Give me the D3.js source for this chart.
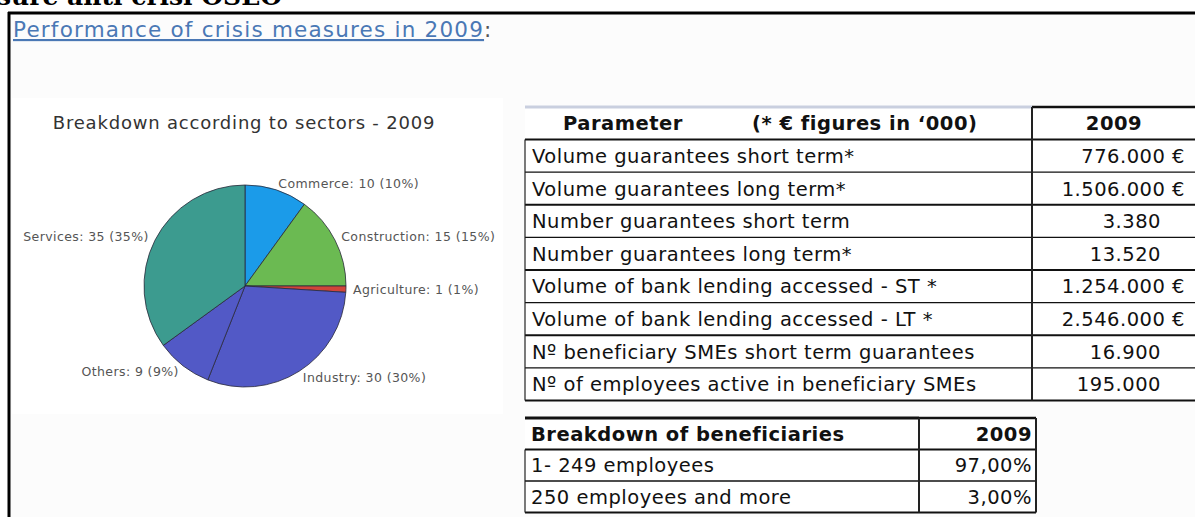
<!DOCTYPE html>
<html>
<head>
<meta charset="utf-8">
<script src="https://cdn.jsdelivr.net/npm/d3@7"></script>
<style>
  body { margin: 0; background: #fff; }
  svg { display: block; }
</style>
</head>
<body>
<svg id="chart" width="1195" height="517"></svg>
<script>
// pie data
const sectors = ["Commerce", "Construction", "Agriculture", "Industry", "Others", "Services"];
const sectorValues = [10, 15, 1, 30, 9, 35];
const sectorColors = ["#1b9be9", "#6bba52", "#d0453a", "#5259c6", "#5259c6", "#3c9b8f"];

// main table
const paramLabels = [
	"Volume guarantees short term*",
	"Volume guarantees long term*",
	"Number guarantees short term",
	"Number guarantees long term*",
	"Volume of bank lending accessed - ST *",
	"Volume of bank lending accessed - LT *",
	"Nº beneficiary SMEs short term guarantees",
	"Nº of employees active in beneficiary SMEs",
];
const paramValues = ["776.000", "1.506.000", "3.380", "13.520", "1.254.000", "2.546.000", "16.900", "195.000"];
const paramEuro = [true, true, false, false, true, true, false, false];

// beneficiaries table
const benefLabels = ["1- 249 employees", "250 employees and more"];
const benefValues = ["97,00%", "3,00%"];

const width = 1195,
	height = 517;
const svg = d3.select("#chart");
const font = "'DejaVu Sans', Verdana, sans-serif";

// page frame
svg.append("rect").attr("x", 9).attr("y", 13).attr("width", width).attr("height", height).attr("fill", "#fcfcfc");
svg.append("text")
	.attr("x", -3)
	.attr("y", 5)
	.attr("font-family", "'DejaVu Serif', 'Liberation Serif', serif")
	.attr("font-weight", "bold")
	.attr("font-size", 25)
	.attr("fill", "#000")
	.text("sure anti crisi OSEO");
svg.append("line").attr("x1", 8).attr("x2", width).attr("y1", 13).attr("y2", 13).attr("stroke", "#000").attr("stroke-width", 3);
svg.append("line").attr("x1", 9).attr("x2", 9).attr("y1", 12).attr("y2", height).attr("stroke", "#000").attr("stroke-width", 3);

// link heading
const link = svg.append("text")
	.attr("x", 13)
	.attr("y", 37)
	.attr("font-family", font)
	.attr("font-size", 21.5)
	.attr("letter-spacing", 1.2);
link.append("tspan").attr("fill", "#4a78b5").attr("text-decoration", "underline").text("Performance of crisis measures in 2009");
link.append("tspan").attr("fill", "#555").text(":");

// ---- pie panel
const gPie = svg.append("g");
gPie.append("rect").attr("x", 12).attr("y", 98).attr("width", 491).attr("height", 316).attr("fill", "#fff");
gPie.append("text")
	.attr("x", 244)
	.attr("y", 129)
	.attr("text-anchor", "middle")
	.attr("font-family", font)
	.attr("font-size", 18)
	.attr("letter-spacing", 0.8)
	.attr("fill", "#333")
	.text("Breakdown according to sectors - 2009");

const cx = 245,
	cy = 286,
	radius = 101;
const pieData = sectors.map((s, i) => ({ name: s, value: sectorValues[i], color: sectorColors[i] }));
const total = d3.sum(sectorValues);
const arcs = d3.pie().sort(null).value((d) => d.value)(pieData);
const arc = d3.arc().innerRadius(0).outerRadius(radius);
const labelArc = d3.arc().innerRadius(radius + 7).outerRadius(radius + 7);

const gSlices = gPie.append("g").attr("transform", `translate(${cx},${cy})`);
gSlices
	.selectAll("path")
	.data(arcs)
	.join("path")
	.attr("d", arc)
	.attr("fill", (d) => d.data.color)
	.attr("stroke", "#2a2a3a")
	.attr("stroke-width", 0.8)
	.attr("stroke-linejoin", "round");

gSlices
	.selectAll("text")
	.data(arcs)
	.join("text")
	.attr("x", (d) => labelArc.centroid(d)[0])
	.attr("y", (d) => labelArc.centroid(d)[1])
	.attr("dy", "0.35em")
	.attr("text-anchor", (d) => ((d.startAngle + d.endAngle) / 2 < Math.PI ? "start" : "end"))
	.attr("font-family", font)
	.attr("font-size", 12.5)
	.attr("letter-spacing", 0.4)
	.attr("fill", "#555")
	.text((d) => `${d.data.name}: ${d.data.value} (${Math.round((d.data.value / total) * 100)}%)`);

// ---- tables
function drawTable(g, opts) {
	const { x0, xs, x1, y0, rowH, rows, headTop } = opts;
	const n = rows.length;
	const y = d3.scaleLinear().domain([0, n]).range([y0, y0 + rowH * n]);
	g.append("rect").attr("x", x0).attr("y", y0).attr("width", x1 - x0).attr("height", rowH * n).attr("fill", "#fff");

	rows.forEach((r, i) => {
		const yc = y(i + 0.5);
		r.forEach((c) => {
			g.append("text")
				.attr("x", c.x)
				.attr("y", yc)
				.attr("dy", "0.36em")
				.attr("text-anchor", c.anchor || "start")
				.attr("font-family", font)
				.attr("font-size", 19.5)
				.attr("letter-spacing", 0.5)
				.attr("font-weight", c.bold ? "bold" : "normal")
				.attr("fill", "#111")
				.text(c.text);
		});
	});

	// horizontal rules
	d3.range(1, n + 1).forEach((i) => {
		g.append("line")
			.attr("x1", x0)
			.attr("x2", x1)
			.attr("y1", y(i))
			.attr("y2", y(i))
			.attr("stroke", "#111")
			.attr("stroke-width", i % 2 === 1 ? 2 : 1.3);
	});
	// top rule
	g.append("line").attr("x1", x0).attr("x2", xs).attr("y1", y0).attr("y2", y0).attr("stroke", headTop).attr("stroke-width", 3);
	g.append("line").attr("x1", xs).attr("x2", x1).attr("y1", y0).attr("y2", y0).attr("stroke", "#111").attr("stroke-width", 2.5);
	// verticals
	[x0, xs, x1].forEach((x, j) => {
		g.append("line")
			.attr("x1", x)
			.attr("x2", x)
			.attr("y1", j === 0 ? y0 + rowH : y0)
			.attr("y2", y(n))
			.attr("stroke", "#222")
			.attr("stroke-width", j === 0 ? 1.2 : 2);
	});
}

const gT1 = svg.append("g");
const rows1 = [
	[
		{ text: "Parameter", x: 563, bold: true },
		{ text: "(* € figures in ‘000)", x: 752, bold: true },
		{ text: "2009", x: 1114, anchor: "middle", bold: true },
	],
].concat(
	paramLabels.map((l, i) => [
		{ text: l, x: 532 },
		{ text: paramEuro[i] ? paramValues[i] + " €" : paramValues[i], x: paramEuro[i] ? 1185 : 1161, anchor: "end" },
	])
);
drawTable(gT1, { x0: 525, xs: 1032, x1: 1196, y0: 107, rowH: 32.6, rows: rows1, headTop: "#c9cfdf" });

const gT2 = svg.append("g");
const rows2 = [
	[
		{ text: "Breakdown of beneficiaries", x: 531, bold: true },
		{ text: "2009", x: 1032, anchor: "end", bold: true },
	],
].concat(benefLabels.map((l, i) => [{ text: l, x: 531 }, { text: benefValues[i], x: 1032, anchor: "end" }]));
drawTable(gT2, { x0: 525, xs: 919, x1: 1036, y0: 418, rowH: 31.5, rows: rows2, headTop: "#111" });
</script>
</body>
</html>
